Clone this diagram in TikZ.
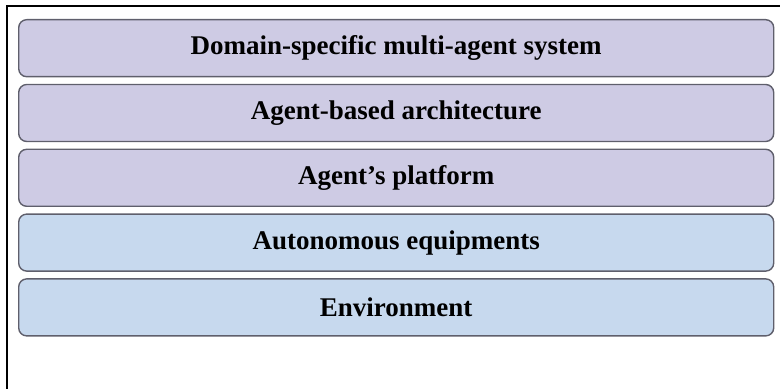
\documentclass[tikz,border=0pt]{standalone}
\usepackage{fontspec}
\setmainfont{Liberation Serif}
\usetikzlibrary{positioning}
\definecolor{layerpurple}{RGB}{206, 203, 228}
\definecolor{layerblue}{RGB}{199, 217, 238}
\definecolor{layeredge}{RGB}{95, 95, 108}

\begin{document}
\begin{tikzpicture}[x=0.5pt, y=0.5pt,
    layer/.style={draw=layeredge, line width=0.7pt, rounded corners=4pt,
      minimum width=377.5pt, minimum height=28.5pt, inner sep=0pt,
      font=\fontsize{13.5}{15}\selectfont\bfseries},
    node distance=3.2pt]

  \useasboundingbox (0, 0) rectangle (780, 389);

  % frame
  \draw[line width=0.6pt] (7, -10) -- (7, 383) -- (790, 383);

  \node[layer, fill=layerpurple, anchor=north west] (mas) at (18, 370)
    {Domain-specific multi-agent system};
  \node[layer, fill=layerpurple, below=of mas] (arch) {Agent-based architecture};
  \node[layer, fill=layerpurple, below=of arch] (platform) {Agent's platform};
  \node[layer, fill=layerblue, below=of platform] (equip) {Autonomous equipments};
  \node[layer, fill=layerblue, below=of equip] (env) {Environment};

\end{tikzpicture}
\end{document}
